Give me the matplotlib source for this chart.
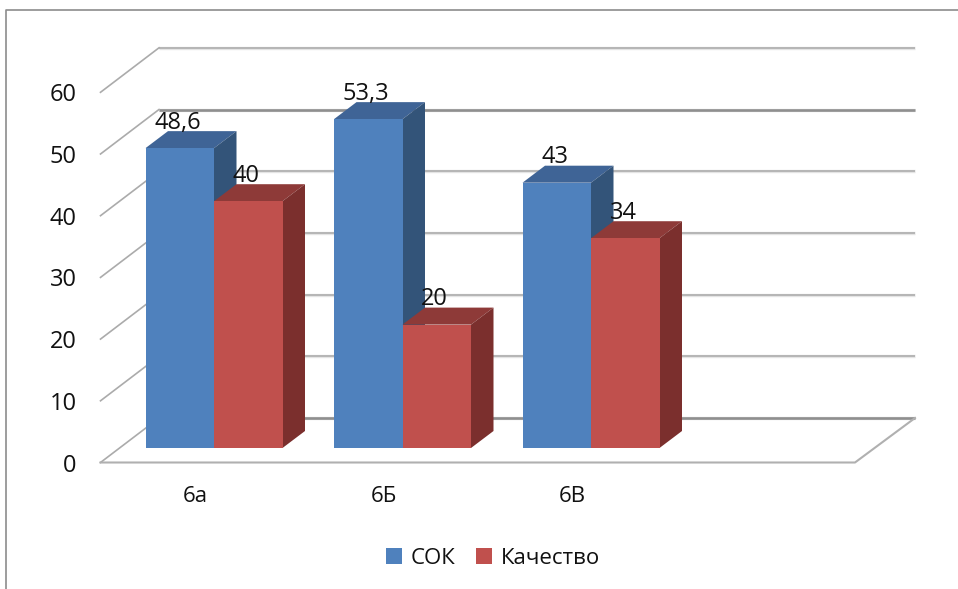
import matplotlib
matplotlib.use('Agg')
import matplotlib.pyplot as plt
from matplotlib.patches import Patch, Polygon

plt.rcParams['font.family'] = ['Open Sans', 'DejaVu Sans']

categories = ['6а', '6Б', '6В']
sok = [48.6, 53.3, 43]
quality = [40, 20, 34]
sok_labels = ['48,6', '53,3', '43']
quality_labels = ['40', '20', '34']
y_ticks = [0, 10, 20, 30, 40, 50, 60]

# picture scale: one value unit and one category step, in pixels
px_y = 6.17
px_x = 188.5
base_y = 448
first_x = 214
W, H = 958, 589

dx = 22.5 / px_x
dy = 17 / px_y
bar_w = 68.5 / px_x


def X(p):
    return (p - first_x) / px_x


def Y(p):
    return (base_y - p) / px_y


fig = plt.figure(figsize=(W / 100, H / 100), dpi=100)
ax = fig.add_axes([0, 0, 1, 1])
ax.set_xlim(X(0), X(W))
ax.set_ylim(Y(H), Y(0))
ax.axis('off')

# chart frame, cut off at right and bottom
ax.plot([X(5.5), X(5.5), X(W)], [Y(H), Y(10.5), Y(10.5)], color='#8c8c8c', lw=1.2, zorder=1)

# walls and floor
front_l, front_r = X(100.5), X(855)
back_l, back_r = X(159), X(915)
front_0, back_0 = Y(462.5), Y(418)
for v in y_ticks:
    y_f = front_0 + v
    y_b = back_0 + v
    heavy = v in (0, 50)
    col = '#8f8f8f' if heavy else '#a8a8a8'
    ax.plot([back_l, back_r], [y_b, y_b], color='#e4e4e4', lw=2.4, zorder=1, solid_capstyle='butt')
    ax.plot([back_l, back_r], [y_b, y_b], color=col, lw=1.9 if heavy else 1.1, zorder=1.1, solid_capstyle='butt')
    ax.plot([front_l, back_l], [y_f, y_b], color='#ababab', lw=1.2, zorder=1.1)
    ax.text(X(76.5), y_f - 3 / px_y, str(v), ha='right', va='center', fontsize=17, color='#111111', zorder=6)
ax.plot([front_l, front_r, back_r], [front_0, front_0, back_0], color='#b0b0b0', lw=1.5, zorder=1.1)


def draw_bars(values, labels, left, front, top, side, z):
    for i, v in enumerate(values):
        x0 = i + left
        x1 = x0 + bar_w
        ax.add_patch(Polygon([(x0, v), (x1, v), (x1 + dx, v + dy), (x0 + dx, v + dy)], color=top, lw=0, zorder=z))
        ax.add_patch(Polygon([(x1, 0), (x1 + dx, dy), (x1 + dx, v + dy), (x1, v)], color=side, lw=0, zorder=z))
        ax.bar(x0, v, bar_w, align='edge', color=front, lw=0, zorder=z + 0.1)
        ax.text(x0 + bar_w / 2 - 2 / px_x, v + 25.5 / px_y, labels[i], ha='center', va='center',
                fontsize=17, color='#111111', zorder=6)


draw_bars(sok, sok_labels, -bar_w, '#4f81bd', '#3f6496', '#335479', 2)
draw_bars(quality, quality_labels, 0, '#c0504d', '#8e3a38', '#7b2f2d', 3)

for i, c in enumerate(categories):
    ax.text(i - 19 / px_x, Y(497), c, ha='center', va='center', fontsize=16, color='#111111')

handles = [Patch(color='#4f81bd', lw=0, label='СОК'), Patch(color='#c0504d', lw=0, label='Качество')]
ax.legend(handles=handles, loc='center', bbox_to_anchor=(493 / W, 1 - 558.5 / H), ncol=2, frameon=False,
          fontsize=16, handlelength=0.72, handleheight=0.72, handletextpad=0.4, columnspacing=0.9,
          labelcolor='#111111')

fig.savefig('out.png', dpi=100)
